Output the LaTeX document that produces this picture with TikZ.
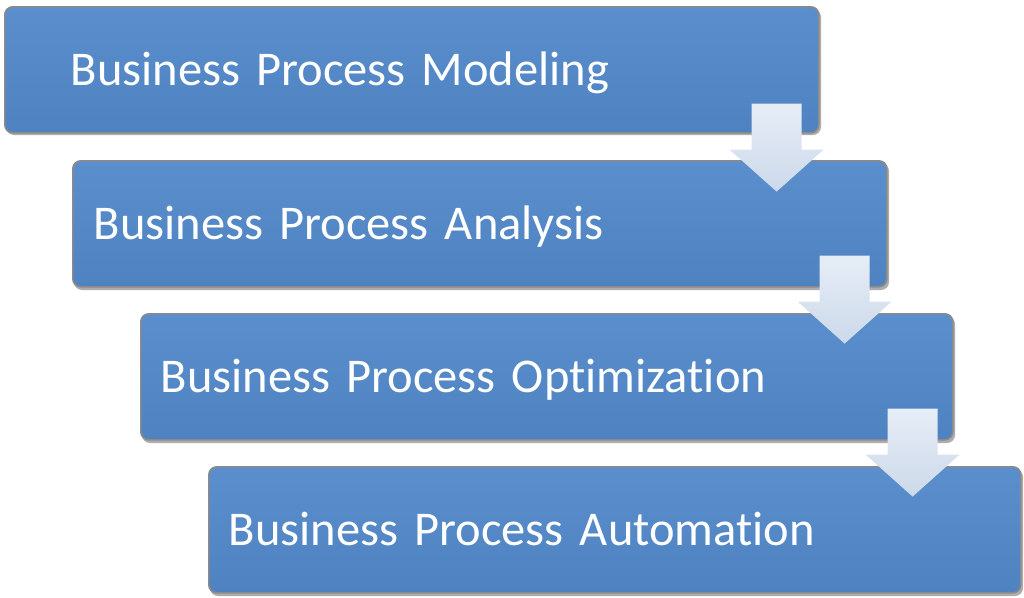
\documentclass[tikz,border=0pt]{standalone}
\usepackage{fontspec}
\setmainfont{Carlito}[Ligatures={NoCommon}]
\usetikzlibrary{calc}
\definecolor{boxtop}{HTML}{5A8ECC}
\definecolor{boxbot}{HTML}{4E82C1}
\definecolor{boxedge}{HTML}{8A8A8A}
\definecolor{boxshadow}{HTML}{6A6A6A}
\definecolor{arrtop}{HTML}{E6EDF6}
\definecolor{arrbot}{HTML}{CCD9EA}
\tikzset{
  stagebox/.style={rectangle, rounded corners=8pt, anchor=north west,
    draw=boxedge, line width=1.6pt, top color=boxtop, bottom color=boxbot,
    minimum height=126pt, text=white, font=\fontsize{48.5}{55}\selectfont,
    align=left, text depth=0pt, text height=31pt, inner ysep=0pt},
  firstbox/.style={stagebox, inner xsep=66pt, text width=682pt},
  laterbox/.style={stagebox, inner xsep=20pt, text width=772pt},
  boxshade/.style={fill=boxshadow, rounded corners=8pt, opacity=0.55},
  flowarrow/.style={top color=arrtop, bottom color=arrbot, draw=none},
}
\newcommand{\flowdown}[1]{%
  \path[flowarrow] ($(#1)+(-25,0)$) -- ($(#1)+(25,0)$) -- ($(#1)+(25,46)$)
    -- ($(#1)+(47,46)$) -- ($(#1)+(0,88)$) -- ($(#1)+(-47,46)$)
    -- ($(#1)+(-25,46)$) -- cycle;}
\begin{document}
\begin{tikzpicture}[x=1pt, y=-1pt]
\useasboundingbox (0,0) rectangle (1024,597);
% shadows
\fill[boxshade] (6,9) rectangle (821,135);
\fill[boxshade] (74,163) rectangle (889,290);
\fill[boxshade] (142,316) rectangle (955,443);
\fill[boxshade] (210,469) rectangle (1023,596);
% boxes
\node[firstbox, minimum width=814pt] (b1) at (4,6) {Business Process Modeling};
\node[laterbox, minimum width=814pt] (b2) at (72,160) {Business Process Analysis};
\node[laterbox, minimum width=812pt] (b3) at (140,313) {Business Process Optimization};
\node[laterbox, minimum width=812pt] (b4) at (208,466) {Business Process Automation};
% arrows
\coordinate (a1) at ($(b1.south east)+(-43,-30)$);
\coordinate (a2) at ($(b2.south east)+(-43,-32)$);
\coordinate (a3) at ($(b3.south east)+(-41,-32)$);
\flowdown{a1}
\flowdown{a2}
\flowdown{a3}
\end{tikzpicture}
\end{document}
